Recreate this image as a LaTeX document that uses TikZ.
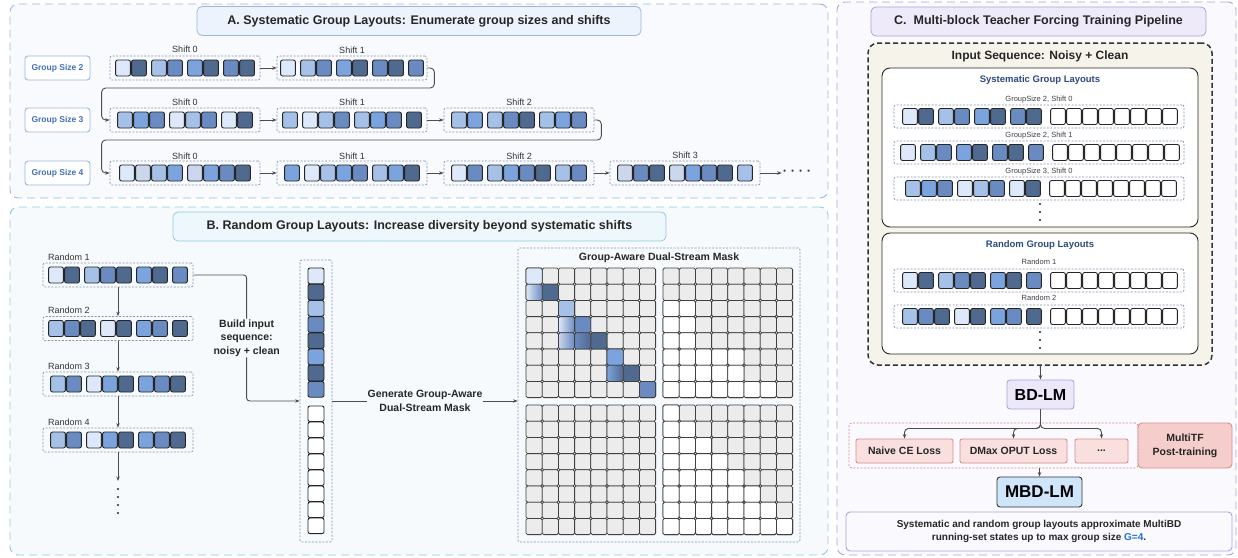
\documentclass[tikz,border=0pt]{standalone}
\usepackage{fontspec}
\setmainfont{Liberation Sans}
\usepackage{etoolbox}
\usetikzlibrary{arrows.meta}

\definecolor{bl0}{HTML}{DDE9FA}
\definecolor{bl1}{HTML}{CAD7EC}
\definecolor{bl2}{HTML}{A6C1E7}
\definecolor{bl3}{HTML}{7BA4DE}
\definecolor{bl4}{HTML}{6A8BC1}
\definecolor{bl5}{HTML}{50698F}
\definecolor{maskgrey}{HTML}{ECECEC}
\definecolor{grpline}{HTML}{8394B4}
\definecolor{panAfill}{HTML}{F8FAFE}
\definecolor{panAline}{HTML}{9DB6DE}
\definecolor{panBfill}{HTML}{F6FAFC}
\definecolor{panBline}{HTML}{8CCBE0}
\definecolor{panCfill}{HTML}{FAF9FE}
\definecolor{panCline}{HTML}{ABA3DC}
\definecolor{ttlAfill}{HTML}{EDF3FC}
\definecolor{ttlBfill}{HTML}{EEF7FB}
\definecolor{ttlCfill}{HTML}{EEEAFA}
\definecolor{gsblue}{HTML}{4470B8}
\definecolor{navy}{HTML}{2C4A80}
\definecolor{beige}{HTML}{F6F4EA}
\definecolor{lossfill}{HTML}{F9E0DF}
\definecolor{lossline}{HTML}{D98C8A}
\definecolor{mtffill}{HTML}{F5CDCB}
\definecolor{bdfill}{HTML}{ECE8FA}
\definecolor{mbdfill}{HTML}{CFE6FA}
\definecolor{gblue}{HTML}{1E6FD9}

% one row of tokens, centred at #1, top at #2; G in the list leaves a gap
\newcommand\tokrow[3]{%
	\gdef\tokw{0}%
	\foreach \col in {#3}{\ifdefstring{\col}{G}{\xdef\tokw{\fpeval{\tokw+4}}}{\xdef\tokw{\fpeval{\tokw+16}}}}%
	\xdef\tokx{\fpeval{#1-\tokw/2}}%
	\foreach \col in {#3}{\ifdefstring{\col}{G}{\xdef\tokx{\fpeval{\tokx+4}}}{%
		\draw[tok, fill=\col] (\tokx+0.6,#2) rectangle ++(14.8,16);%
		\xdef\tokx{\fpeval{\tokx+16}}}}%
}

\begin{document}
\begin{tikzpicture}[x=1pt,y=-1pt,
	tok/.style={draw=black!85, line width=0.9, rounded corners=2},
	mcell/.style={draw=black!75, line width=0.8, rounded corners=1.5, fill=maskgrey},
	grp/.style={draw=grpline, dash pattern=on 2pt off 1.5pt, line width=0.7, rounded corners=2, inner sep=0, minimum width=150, minimum height=24},
	panel/.style={dash pattern=on 8pt off 5pt, line width=0.9, rounded corners=8, inner sep=0},
	ttlbox/.style={line width=0.8, rounded corners=5, minimum height=29, inner sep=0, font=\fontsize{12.5}{14}\selectfont\bfseries, text=black!85},
	gsbox/.style={draw=panAline, fill=white, line width=0.9, rounded corners=3, minimum width=65, minimum height=24, inner sep=0, font=\fontsize{8.5}{10}\selectfont\bfseries, text=gsblue},
	lbl/.style={font=\fontsize{9}{10}\selectfont, text=black!80, inner sep=1},
	small/.style={font=\fontsize{7.5}{9}\selectfont, text=black!75, inner sep=1},
	note/.style={font=\fontsize{10.5}{13.5}\selectfont\bfseries, text=black!85, align=center, inner sep=1},
	solid box/.style={line width=0.9, rounded corners=3, inner sep=0},
	arr/.style={draw=black!70, line width=0.9, -{Stealth[length=4.5pt,width=3.5pt]}}]

\useasboundingbox (0,0) rectangle (1238,557);

% panels
\node (panA) at (419,101) [panel, draw=panAline, fill=panAfill, minimum width=818, minimum height=194] {};
\node (panB) at (419,381) [panel, draw=panBline, fill=panBfill, minimum width=818, minimum height=348] {};
\node (panC) at (1036.5,278.5) [panel, draw=panCline, fill=panCfill, minimum width=399, minimum height=553] {};
\node (ttlA) at (419,21) [ttlbox, draw=panAline, fill=ttlAfill, minimum width=444] {A. Systematic Group Layouts: Enumerate group sizes and shifts};
\node (ttlB) at (419.5,226.5) [ttlbox, draw=panBline, fill=ttlBfill, minimum width=493] {B. Random Group Layouts: Increase diversity beyond systematic shifts};
\node (ttlC) at (1038.5,21.5) [ttlbox, draw=panCline, fill=ttlCfill, minimum width=335] {C.\ \ Multi-block Teacher Forcing Training Pipeline};

% A: group sizes and shifts
\node (gs2) at (57.5,68) [gsbox] {Group Size 2};
\node (gs3) at (57.5,120) [gsbox] {Group Size 3};
\node (gs4) at (57.5,173) [gsbox] {Group Size 4};

\node (s20) at (185,68) [grp] {};
\node (s21) at (352,68) [grp] {};
\node (s20t) at (185,49) [lbl] {Shift 0};
\node (s21t) at (352,50) [lbl] {Shift 1};
\tokrow{185}{60}{bl0,bl5,G,bl2,bl4,G,bl3,bl5,G,bl4,bl5}
\tokrow{352}{60}{bl0,G,bl2,bl4,G,bl3,bl5,G,bl4,bl5,G,bl4}

\node (s30) at (185,120) [grp] {};
\node (s31) at (352,120) [grp] {};
\node (s32) at (519,120) [grp] {};
\node (s30t) at (185,102) [lbl] {Shift 0};
\node (s31t) at (352,102) [lbl] {Shift 1};
\node (s32t) at (519,102) [lbl] {Shift 2};
\tokrow{185}{112}{bl2,bl3,bl4,G,bl0,bl2,bl4,G,bl0,bl5}
\tokrow{352}{112}{bl2,G,bl0,bl2,bl4,G,bl2,bl3,bl4,G,bl5}
\tokrow{519}{112}{bl2,bl3,G,bl2,bl4,bl5,G,bl2,bl3,bl4}

\node (s40) at (185,173) [grp] {};
\node (s41) at (352,173) [grp] {};
\node (s42) at (519,173) [grp] {};
\node (s43) at (685,173) [grp] {};
\node (s40t) at (185,156) [lbl] {Shift 0};
\node (s41t) at (352,156) [lbl] {Shift 1};
\node (s42t) at (519,156) [lbl] {Shift 2};
\node (s43t) at (685,155) [lbl] {Shift 3};
\tokrow{185}{165}{bl0,bl1,bl2,bl3,G,bl1,bl3,bl4,bl5}
\tokrow{352}{165}{bl3,G,bl0,bl2,bl3,bl4,G,bl2,bl3,bl5}
\tokrow{519}{165}{bl0,bl4,G,bl2,bl3,bl4,bl5,G,bl2,bl4}
\tokrow{685}{165}{bl1,bl4,bl5,G,bl1,bl3,bl4,bl5,G,bl2}
\node (moreA) at (797,173) [inner sep=1, font=\fontsize{13}{14}\selectfont\bfseries, text=black!80] {· · · ·};

\draw[arr] (s20) -- (s21);
\draw[arr] (s30) -- (s31);
\draw[arr] (s31) -- (s32);
\draw[arr] (s40) -- (s41);
\draw[arr] (s41) -- (s42);
\draw[arr] (s42) -- (s43);
\draw[arr] (s43) -- (moreA);
\draw[arr, rounded corners=4] (s21.east) -- ++(7,0) -- ++(0,20) -| ([xshift=-8pt]s30.west) -- (s30.west);
\draw[arr, rounded corners=4] (s32.east) -- ++(7,0) -- ++(0,20) -| ([xshift=-8pt]s40.west) -- (s40.west);

% B: random layouts
\node (r1) at (118,275) [grp] {};
\node (r2) at (118,328.5) [grp] {};
\node (r3) at (118,384) [grp] {};
\node (r4) at (118,440) [grp] {};
\node (r1t) at (47,257) [lbl, anchor=west] {Random 1};
\node (r2t) at (47,310) [lbl, anchor=west] {Random 2};
\node (r3t) at (47,366) [lbl, anchor=west] {Random 3};
\node (r4t) at (47,422) [lbl, anchor=west] {Random 4};
\tokrow{118}{267}{bl0,bl5,G,bl2,bl4,bl5,G,bl3,bl5,G,bl4}
\tokrow{118}{320.5}{bl2,bl4,bl5,G,bl0,bl5,G,bl3,bl4,G,bl5}
\tokrow{118}{376}{bl2,bl4,G,bl0,bl3,bl5,G,bl3,bl4,bl5}
\tokrow{118}{432}{bl2,bl4,G,bl0,bl3,bl5,G,bl3,bl4,bl5}
\coordinate (moreB) at (118,481);
\draw[arr] (r1) -- (r2);
\draw[arr] (r2) -- (r3);
\draw[arr] (r3) -- (r4);
\draw[arr] (r4) -- (moreB);
\foreach \d in {489,497,505,513}
	\fill[black!85] (118,\d) circle (1.1);

% noisy + clean input column
\node (seq) at (316,401) [grp, minimum width=32, minimum height=282] {};
\foreach \col [count=\i from 0] in {bl0,bl5,bl2,bl4,bl5,bl3,bl5,bl4}
	\draw[tok, fill=\col] (308,268+16.2*\i) rectangle ++(16,15.8);
\foreach \i in {0,...,7}
	\draw[tok, fill=white] (308,406+16*\i) rectangle ++(16,15.6);

\draw[arr, rounded corners=3] (r1.east) -| node[pos=0.75, note, fill=panBfill] {Build input\\sequence:\\noisy + clean} ([xshift=-53pt]seq.west) -- (seq.west);

% group-aware dual-stream mask
\node (mask) at (659,395) [grp, minimum width=282, minimum height=294] {};
\node (maskt) at (659,258) [note] {Group-Aware Dual-Stream Mask};
\draw[arr] (seq.east) -- node[note, fill=panBfill] {Generate Group-Aware\\Dual-Stream Mask} (seq.east -| mask.west);

\foreach \gx/\gy in {526/268,663/268,526/405,663/405}
	\foreach \r in {0,...,7}
		\foreach \k in {0,...,7}
			\draw[mcell] (\gx+16.2*\k,\gy+16.2*\r) rectangle ++(16.2,16.2);
\foreach \r/\n in {2/1,3/1,4/1,5/4,6/4,7/6}
	\foreach \k in {0,...,\n}
		\draw[mcell, fill=white] (663+16.2*\k,268+16.2*\r) rectangle ++(16.2,16.2);
\foreach \r in {0,...,7}
	\foreach \k in {0,...,\r}
		\draw[mcell, fill=white] (663+16.2*\k,405+16.2*\r) rectangle ++(16.2,16.2);
\foreach \col [count=\i from 0] in {bl0,bl5,bl2,bl4,bl5,bl3,bl5,bl4}
	\draw[mcell, fill=\col] (526+16.2*\i,268+16.2*\i) rectangle ++(16.2,16.2);
\foreach \r/\k/\a/\b in {1/0/bl0/bl4,3/2/bl0/bl4,4/2/bl1/bl4,4/3/bl4/bl5,6/5/bl3/bl5}
	\draw[mcell, left color=\a, right color=\b] (526+16.2*\k,268+16.2*\r) rectangle ++(16.2,16.2);

% C: training pipeline
\node (inseq) at (1040,204) [draw=black!80, fill=beige, dash pattern=on 5pt off 3pt, line width=1.5, rounded corners=10, minimum width=344, minimum height=322, inner sep=0] {};
\node (inseqt) at (1040,56) [font=\fontsize{12}{14}\selectfont\bfseries, text=black!85] {Input Sequence: Noisy + Clean};

\node (sysbox) at (1040,147.5) [solid box, draw=black!85, fill=white, rounded corners=8, minimum width=316, minimum height=159] {};
\node (syst) at (1040,80) [font=\fontsize{9.5}{11}\selectfont\bfseries, text=navy] {Systematic Group Layouts};
\node (c1) at (1039,116.5) [grp, minimum width=290, minimum height=23] {};
\node (c2) at (1039,152.5) [grp, minimum width=290, minimum height=23] {};
\node (c3) at (1039,188.5) [grp, minimum width=290, minimum height=23] {};
\node (c1t) at (1039,100) [small] {GroupSize 2, Shift 0};
\node (c2t) at (1039,136) [small] {GroupSize 2, Shift 1};
\node (c3t) at (1039,172) [small] {GroupSize 3, Shift 0};
\tokrow{1040}{108.5}{bl0,bl5,G,bl2,bl4,G,bl3,bl5,G,bl4,bl5,G,G,white,white,white,white,white,white,white,white}
\tokrow{1040}{144.5}{bl0,G,bl2,bl4,G,bl3,bl5,G,bl4,bl5,G,bl4,G,G,white,white,white,white,white,white,white,white}
\tokrow{1041}{180.5}{bl2,bl3,bl4,G,bl0,bl2,bl4,G,bl0,bl5,G,G,white,white,white,white,white,white,white,white}
\foreach \d in {204,212,220}
	\fill[black!85] (1040,\d) circle (1.1);

\node (rndbox) at (1040,293.5) [solid box, draw=black!85, fill=white, rounded corners=8, minimum width=316, minimum height=121] {};
\node (rndt) at (1040,245) [font=\fontsize{9.5}{11}\selectfont\bfseries, text=navy] {Random Group Layouts};
\node (cr1) at (1039,280.5) [grp, minimum width=290, minimum height=23] {};
\node (cr2) at (1039,316.5) [grp, minimum width=290, minimum height=23] {};
\node (cr1t) at (1039,262) [small] {Random 1};
\node (cr2t) at (1039,298) [small] {Random 2};
\tokrow{1040}{272.5}{bl0,bl5,G,bl2,bl4,bl5,G,bl3,bl5,G,bl4,G,G,white,white,white,white,white,white,white,white}
\tokrow{1040}{308.5}{bl2,bl4,bl5,G,bl0,bl5,G,bl3,bl4,G,bl5,G,G,white,white,white,white,white,white,white,white}
\foreach \d in {332,340,348}
	\fill[black!85] (1040,\d) circle (1.1);

\node (bdlm) at (1040.5,394.5) [solid box, draw=panCline, fill=bdfill, minimum width=67, minimum height=29, font=\fontsize{16}{18}\selectfont\bfseries] {BD-LM};
\node (lossarea) at (993.5,445.5) [draw=lossline, dash pattern=on 2pt off 1.5pt, line width=0.7, rounded corners=3, minimum width=289, minimum height=45, inner sep=0] {};
\node (mtf) at (1185,445.5) [solid box, draw=lossline, fill=mtffill, rounded corners=4, minimum width=94, minimum height=45, align=center, font=\fontsize{10.5}{14}\selectfont\bfseries, text=black!85] {MultiTF\\Post-training};
\node (loss1) at (904.5,451) [solid box, draw=lossline, fill=lossfill, rounded corners=2, minimum width=97, minimum height=24, font=\fontsize{10.5}{12}\selectfont\bfseries, text=black!85] {Naive CE Loss};
\node (loss2) at (1013.5,451) [solid box, draw=lossline, fill=lossfill, rounded corners=2, minimum width=107, minimum height=24, font=\fontsize{10.5}{12}\selectfont\bfseries, text=black!85] {DMax OPUT Loss};
\node (loss3) at (1101.5,451) [solid box, draw=lossline, fill=lossfill, rounded corners=2, minimum width=53, minimum height=24, font=\fontsize{10.5}{12}\selectfont\bfseries, text=black!85] {...};
\node (mbdlm) at (1039.5,492) [solid box, draw=black!80, fill=mbdfill, minimum width=85, minimum height=30, font=\fontsize{17}{19}\selectfont\bfseries] {MBD-LM};
\node (note) at (1039,531.5) [solid box, draw=panCline, fill=panCfill, rounded corners=4, minimum width=386, minimum height=39, align=center, font=\fontsize{10}{13}\selectfont\bfseries, text=black!85] {Systematic and random group layouts approximate MultiBD\\running-set states up to max group size \textcolor{gblue}{G=4}.};

\draw[arr] (inseq) -- (bdlm);
\foreach \l in {loss1,loss2,loss3}
	\draw[arr, rounded corners=4] (bdlm.south) -- ++(0,19) -| (\l.north);
\draw[arr] (lossarea.south -| mbdlm.north) -- (mbdlm.north);
\end{tikzpicture}
\end{document}
